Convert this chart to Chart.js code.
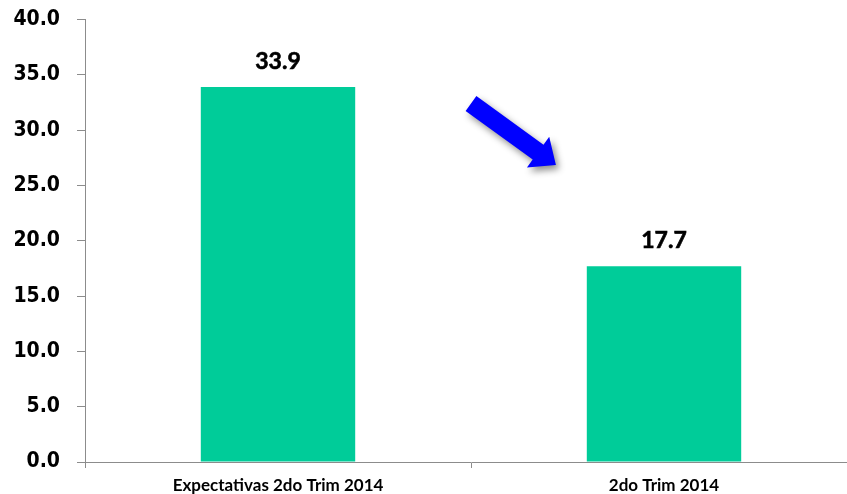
<!DOCTYPE html>
<html>
<head>
<meta charset="utf-8">
<script src="https://cdn.jsdelivr.net/npm/chart.js@4"></script>
<style>
  html, body { margin: 0; padding: 0; background: #fff; overflow: hidden; width: 847px; height: 494px; }
  #wrap { width: 857px; height: 494px; position: relative; }
</style>
</head>
<body>
<div id="wrap"><canvas id="c" width="857" height="494"></canvas></div>
<script>
const categories = ["Expectativas 2do Trim 2014", "2do Trim 2014"];
const values = [33.9, 17.7];
const yTicks = [0, 5, 10, 15, 20, 25, 30, 35, 40];
const barColor = "#00CC99";
const axisColor = "#8C8C8C";

const valueLabels = {
  id: "valueLabels",
  afterDatasetsDraw(chart) {
    const ctx = chart.ctx;
    const meta = chart.getDatasetMeta(0);
    ctx.save();
    ctx.font = "700 23px 'Lato'";
    ctx.fillStyle = "#000";
    ctx.strokeStyle = "#000";
    ctx.lineWidth = 0.6;
    ctx.textAlign = "center";
    ctx.textBaseline = "alphabetic";
    meta.data.forEach((bar, i) => {
      const t = values[i].toFixed(1);
      ctx.fillText(t, bar.x, bar.y - 18);
      ctx.strokeText(t, bar.x, bar.y - 18);
    });
    ctx.restore();
  }
};

const arrow = {
  id: "arrow",
  afterDatasetsDraw(chart) {
    const xs = chart.scales.x, ys = chart.scales.y;
    const x0 = xs.getPixelForValue(0), x1 = xs.getPixelForValue(1);
    const tail = { x: x0 + (x1 - x0) * 0.5, y: ys.getPixelForValue(32.4) };
    const tip = { x: x0 + (x1 - x0) * 0.72, y: ys.getPixelForValue(26.85) };
    const dx = tip.x - tail.x, dy = tip.y - tail.y;
    const len = Math.hypot(dx, dy);
    const ux = dx / len, uy = dy / len;
    const nx = -uy, ny = ux;
    const hw = 9.2, headHw = 19, headLen = 22;
    const bx = tip.x - ux * headLen, by = tip.y - uy * headLen;
    const ctx = chart.ctx;
    ctx.save();
    ctx.shadowColor = "rgba(0,0,0,0.45)";
    ctx.shadowBlur = 7;
    ctx.shadowOffsetX = 3;
    ctx.shadowOffsetY = 4;
    ctx.fillStyle = "#0000FF";
    ctx.beginPath();
    ctx.moveTo(tail.x + nx * hw, tail.y + ny * hw);
    ctx.lineTo(bx + nx * hw, by + ny * hw);
    ctx.lineTo(bx + nx * headHw, by + ny * headHw);
    ctx.lineTo(tip.x, tip.y);
    ctx.lineTo(bx - nx * headHw, by - ny * headHw);
    ctx.lineTo(bx - nx * hw, by - ny * hw);
    ctx.lineTo(tail.x - nx * hw, tail.y - ny * hw);
    ctx.closePath();
    ctx.fill();
    ctx.restore();
  }
};

new Chart(document.getElementById("c"), {
  type: "bar",
  data: {
    labels: categories,
    datasets: [{
      data: values,
      backgroundColor: barColor,
      borderWidth: 0,
      barPercentage: 0.4,
      categoryPercentage: 1.0
    }]
  },
  options: {
    responsive: false,
    animation: false,
    devicePixelRatio: 1,
    layout: { padding: { top: 19.5, right: 0, bottom: 0, left: 0 } },
    plugins: { legend: { display: false }, tooltip: { enabled: false } },
    scales: {
      x: {
        grid: { display: true, drawOnChartArea: false, drawTicks: true, tickLength: 6, color: axisColor, offset: true },
        border: { display: true, color: axisColor, width: 1 },
        ticks: { font: { family: "Lato", weight: "bold", size: 17 }, color: "#000", padding: 7, maxRotation: 0 },
        afterFit(s) { s.height = 32; s.paddingLeft = 0; s.paddingRight = 0; }
      },
      y: {
        min: 0, max: 40,
        afterBuildTicks(s) { s.ticks = yTicks.map(v => ({ value: v })); },
        grid: { display: true, drawOnChartArea: false, drawTicks: true, tickLength: 8, color: axisColor },
        border: { display: true, color: axisColor, width: 1 },
        ticks: {
          font: { family: "DejaVu Sans Condensed", weight: "bold", size: 21 },
          color: "#000",
          padding: 17,
          callback: v => Number(v).toFixed(1)
        },
        afterFit(s) { s.width = 85; s.paddingTop = 0; s.paddingBottom = 0; }
      }
    }
  },
  plugins: [valueLabels, arrow]
});
</script>
</body>
</html>
